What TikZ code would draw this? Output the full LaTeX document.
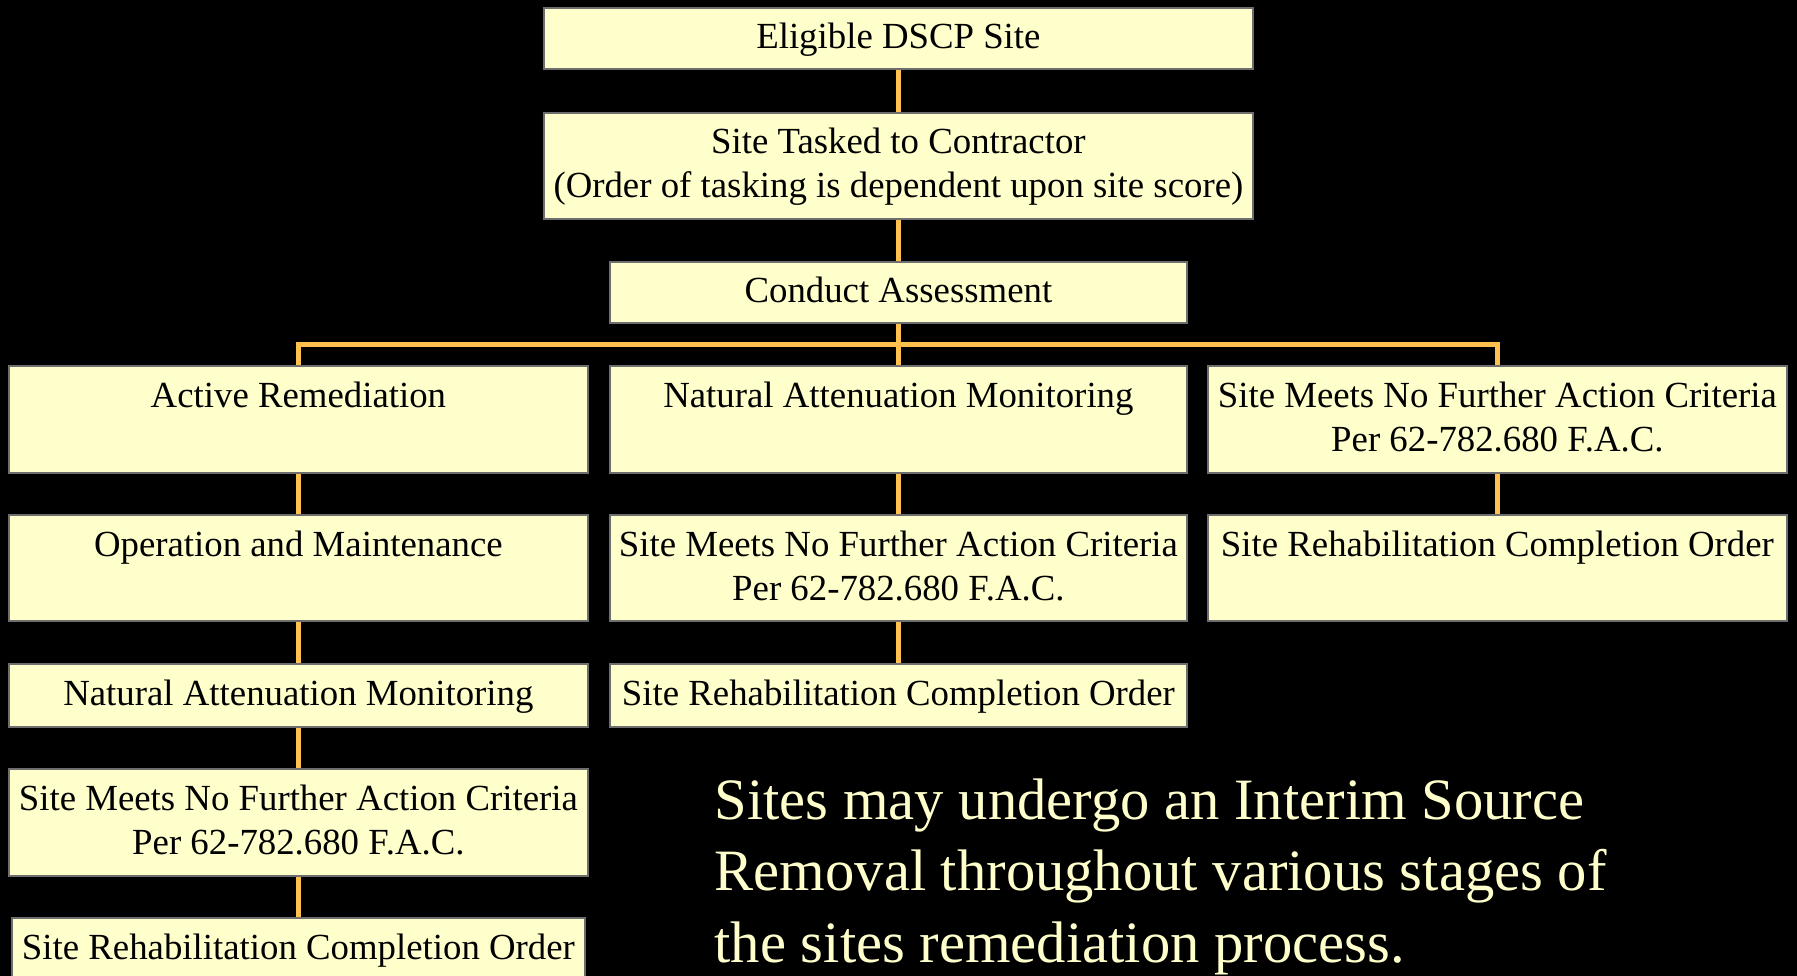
\documentclass[tikz,border=0pt]{standalone}
\usepackage{fontspec}
\setmainfont{Liberation Serif}
\usetikzlibrary{calc}
\definecolor{boxfill}{HTML}{FFFFCC}
\definecolor{boxline}{HTML}{6E6E6E}
\definecolor{connc}{HTML}{FFC04D}
\definecolor{notec}{HTML}{FFFFCC}
\tikzset{
  flowbox/.style={draw=boxline, line width=1.8pt, fill=boxfill, inner sep=0pt, rectangle},
  boxtext/.style={inner sep=0pt, font=\fontsize{36.8}{44}\selectfont, text=black},
  conn/.style={draw=connc, line width=5.5pt, line join=miter},
  notetext/.style={inner sep=0pt, font=\fontsize{58.6}{71.5}\selectfont, text=notec, align=left, anchor=base west}
}
\newcommand\flowbox[6]{%
  \node[flowbox, anchor=north west, minimum width={(#4-#2)*1pt}, minimum height={(#5-#3)*1pt}] (#1) at (#2,#3) {};
  \node[boxtext, anchor=base] (#1t) at ($(#1.north)+(0,42)$) {\begin{tabular}[t]{@{}c@{}}#6\end{tabular}};
}
\begin{document}
\begin{tikzpicture}[x=1pt,y=-1pt]
\fill[black] (0,0) rectangle (1797,976);
\useasboundingbox (0,0) rectangle (1797,976);
\clip (0,0) rectangle (1797,976);
\coordinate (hb) at (0,344.5);
\flowbox{elig}{543}{7}{1252}{68}{Eligible DSCP Site}
\flowbox{task}{543}{112}{1252}{218}{Site Tasked to Contractor\\(Order of tasking is dependent upon site score)}
\flowbox{cond}{609}{261}{1186}{322}{Conduct Assessment}
\flowbox{ar}{8}{365}{587}{472}{Active Remediation}
\flowbox{nam}{609}{365}{1186}{472}{Natural Attenuation Monitoring}
\flowbox{smr}{1207}{365}{1786}{472}{Site Meets No Further Action Criteria\\Per 62-782.680 F.A.C.}
\flowbox{om}{8}{514}{587}{620}{Operation and Maintenance}
\flowbox{smm}{609}{514}{1186}{620}{Site Meets No Further Action Criteria\\Per 62-782.680 F.A.C.}
\flowbox{srcr}{1207}{514}{1786}{620}{Site Rehabilitation Completion Order}
\flowbox{naml}{8}{663}{587}{726}{Natural Attenuation Monitoring}
\flowbox{srcm}{609}{663}{1186}{726}{Site Rehabilitation Completion Order}
\flowbox{sml}{8}{768}{587}{875}{Site Meets No Further Action Criteria\\Per 62-782.680 F.A.C.}
\flowbox{srcl}{11}{917}{584}{1000}{Site Rehabilitation Completion Order}
% connectors
\draw[conn] (elig.south) -- (task.north);
\draw[conn] (task.south) -- (cond.north);
\draw[conn] (cond.south) -- (nam.north);
\draw[conn] (ar.north) -- (ar.north |- hb) -- (smr.north |- hb) -- (smr.north);
\draw[conn] (ar.south) -- (om.north);
\draw[conn] (om.south) -- (naml.north);
\draw[conn] (naml.south) -- (sml.north);
\draw[conn] (sml.south) -- (srcl.north);
\draw[conn] (nam.south) -- (smm.north);
\draw[conn] (smm.south) -- (srcm.north);
\draw[conn] (smr.south) -- (srcr.north);
% note
\node[notetext] (note) at (714.5,819) {\begin{tabular}[t]{@{}l@{}}Sites may undergo an Interim Source\\Removal throughout various stages of\\the sites remediation process.\end{tabular}};
\end{tikzpicture}
\end{document}
